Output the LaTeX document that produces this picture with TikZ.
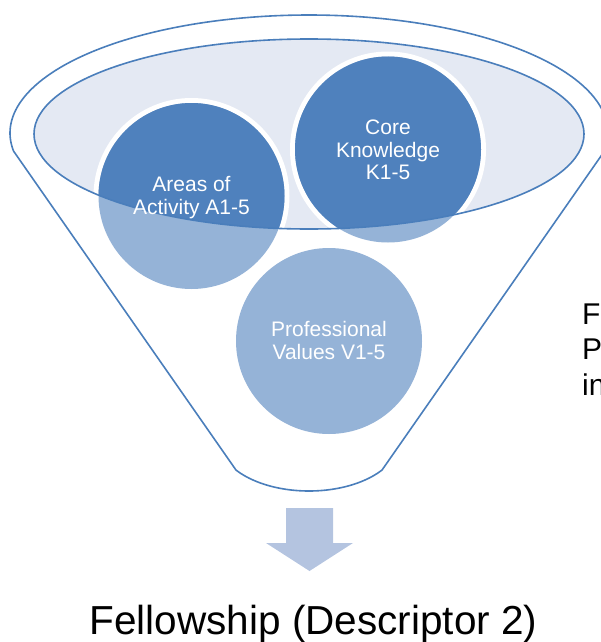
\documentclass[tikz,border=0pt]{standalone}
\usepackage{fontspec}
\setmainfont{Liberation Sans}
\begin{document}
\begin{tikzpicture}[x=1pt,y=-1pt,line join=round]
\definecolor{edgec}{RGB}{74,126,187}
\definecolor{ellc}{RGB}{228,233,243}
\definecolor{darkc}{RGB}{79,129,189}
\definecolor{lightc}{RGB}{149,179,215}
\definecolor{arrowc}{RGB}{180,196,224}
\tikzset{
  outline/.style={draw=edgec,line width=1.6pt},
  ring/.style={draw=white,line width=5pt},
  bubbletext/.style={text=white,align=center,inner sep=0pt,font=\fontsize{21}{22.5}\selectfont},
}
\useasboundingbox (0,0) rectangle (600,642);
% inner ellipse fill
\fill[ellc] (309,134) ellipse[x radius=275pt,y radius=95pt];
% rings and light circles
\foreach \cx/\cy in {191.5/196,388/149.5,329/341}{
  \draw[ring] (\cx,\cy) circle[radius=95.5pt];
}
\foreach \cx/\cy in {191.5/196,388/149.5,329/341}{
  \fill[lightc] (\cx,\cy) circle[radius=93pt];
}
\begin{scope}
  \clip (309,134) ellipse[x radius=275pt,y radius=95pt];
  \foreach \cx/\cy in {191.5/196,388/149.5,329/341}{
    \fill[darkc] (\cx,\cy) circle[radius=93pt];
  }
\end{scope}
% inner ellipse outline
\draw[outline] (309,134) ellipse[x radius=275pt,y radius=95pt];
% funnel body
\draw[outline] plot[domain=171.2:368.8,samples=150] ({309+299*cos(\x)},{133+118*sin(\x)})
  -- plot[domain=36:144,samples=60] ({309+90.3*cos(\x)},{440+51*sin(\x)}) -- cycle;
% texts in circles
\node[bubbletext] (areas) at (191.5,197.5) {Areas of\\Activity A1-5};
\node[bubbletext] (core) at (388,150) {Core\\Knowledge\\K1-5};
\node[bubbletext] (values) at (329,340.5) {Professional\\Values V1-5};
% block arrow
\fill[arrowc] (286,508) -- (333,508) -- (333,543) -- (353,543) -- (309.5,571) -- (266,543) -- (286,543) -- cycle;
% title
\node[anchor=base,inner sep=0pt,font=\fontsize{40.5}{48}\selectfont] (title) at (313.5,634) {Fellowship (Descriptor 2)};
% cut-off side text
\node[anchor=base west,align=left,inner sep=0pt,font=\fontsize{30}{35.5}\selectfont] (side) at (582,395) {F\\P\\in};
\end{tikzpicture}
\end{document}
